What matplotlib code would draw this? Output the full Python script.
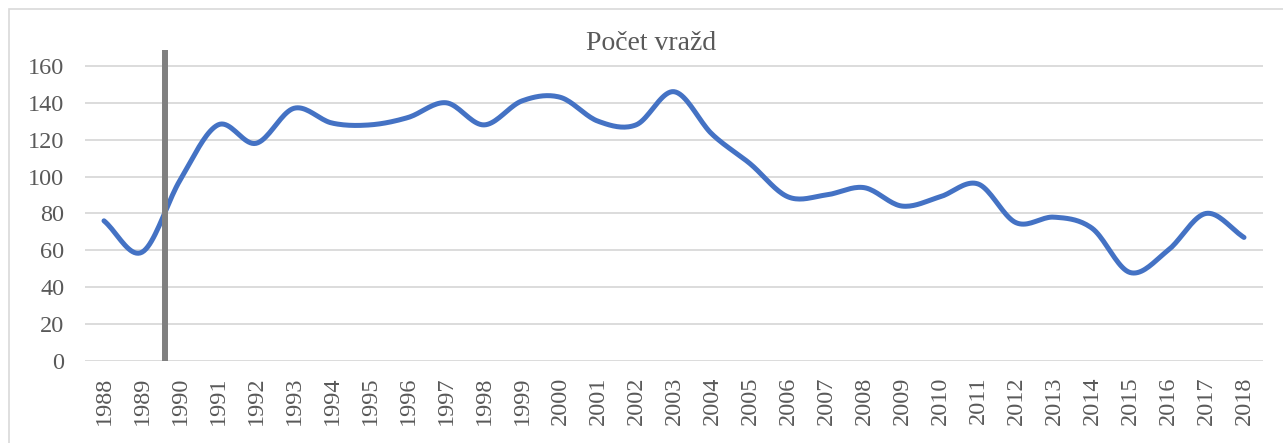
import numpy as np
import matplotlib
matplotlib.use("Agg")
import matplotlib.pyplot as plt
from matplotlib.patches import Rectangle

# data
years = list(range(1988, 2019))
murders = [76, 59, 98, 128, 118, 137, 129, 128, 132, 140,
           128, 141, 143, 130, 128, 146, 123, 107, 89, 90,
           94, 84, 89, 96, 75, 78, 72, 48, 60, 80, 67]
marker_year = 1989.6
title = "Počet vražd"


def smooth(x, y, n=20):
    # catmull-rom, like the "smoothed line" option in a spreadsheet
    x = np.asarray(x, float)
    y = np.asarray(y, float)
    px = np.concatenate([[2 * x[0] - x[1]], x, [2 * x[-1] - x[-2]]])
    py = np.concatenate([[2 * y[0] - y[1]], y, [2 * y[-1] - y[-2]]])
    t = np.linspace(0, 1, n, endpoint=False)
    xs, ys = [], []
    for i in range(1, len(px) - 2):
        for p, out in ((px, xs), (py, ys)):
            p0, p1, p2, p3 = p[i - 1], p[i], p[i + 1], p[i + 2]
            out.extend(0.5 * (2 * p1 + (-p0 + p2) * t
                              + (2 * p0 - 5 * p1 + 4 * p2 - p3) * t ** 2
                              + (-p0 + 3 * p1 - 3 * p2 + p3) * t ** 3))
    xs.append(x[-1])
    ys.append(y[-1])
    return np.array(xs), np.array(ys)


plt.rcParams['font.family'] = ['Liberation Serif', 'DejaVu Serif']
grey = '#595959'

fig = plt.figure(figsize=(12.83, 4.43), dpi=100)
fig.patches.append(Rectangle((9 / 1283, -0.1), 1.2, 1 - 9 / 443 + 0.1,
                             transform=fig.transFigure, fill=False,
                             edgecolor='#d9d9d9', linewidth=1.2))

ax = fig.add_axes([85 / 1283, 0.185, (1263 - 85) / 1283, 0.708])
idx = np.arange(len(years))

ax.set_ylim(0, 170)
ax.set_xlim(-0.5, len(years) - 0.5)
ax.set_yticks(range(0, 161, 20))
for v in range(0, 161, 20):
    ax.axhline(v, color='#d9d9d9', lw=1.3, zorder=0)

sx, sy = smooth(idx, murders)
ax.plot(sx, sy, color='#4472C4', lw=3.6, solid_capstyle='round', zorder=3)

mx = marker_year - years[0]
ax.plot([mx, mx], [0, 168.5], color='#808080', lw=4.3, clip_on=False, zorder=4,
        solid_capstyle='butt')

ax.set_xticks(idx)
ax.set_xticklabels([str(y) for y in years], rotation=90)
ax.tick_params(axis='both', length=0, colors=grey, labelsize=17.5)
ax.tick_params(axis='x', pad=11)
ax.tick_params(axis='y', pad=15)
for s in ax.spines.values():
    s.set_visible(False)

fig.text(651 / 1283, 1 - 44 / 443, title, ha='center', va='center',
         fontsize=20, color=grey)

fig.savefig('out.png', dpi=100)
